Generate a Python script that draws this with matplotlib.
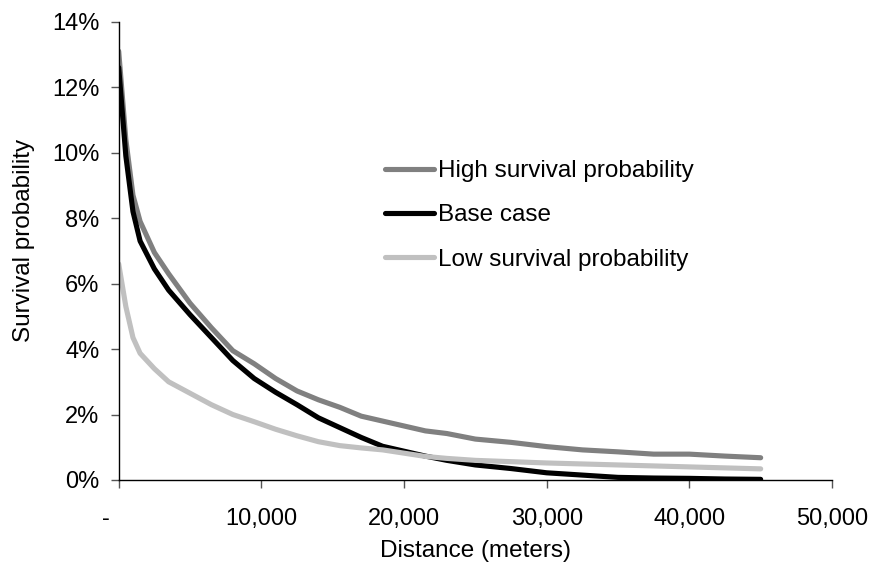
import matplotlib
matplotlib.use("Agg")
import matplotlib.pyplot as plt
import matplotlib.transforms as mtransforms
from matplotlib.ticker import FuncFormatter

plt.rcParams["font.family"] = ["Liberation Sans", "DejaVu Sans"]

# Distance from release point (meters)
distance = [0, 500, 1000, 1500, 2500, 3500, 5000, 6500, 8000, 9500,
            11000, 12500, 14000, 15500, 17000, 18500, 20000, 21500, 23000,
            25000, 27500, 30000, 32500, 35000, 37500, 40000, 42500, 45000]

# Survival probability in percent
high_survival = [13.1, 10.4, 8.7, 7.9, 6.95, 6.3, 5.4, 4.65, 3.95, 3.55,
                 3.1, 2.72, 2.45, 2.22, 1.95, 1.8, 1.65, 1.5, 1.42,
                 1.25, 1.15, 1.02, 0.92, 0.86, 0.79, 0.79, 0.73, 0.68]
base_case = [12.6, 9.9, 8.2, 7.3, 6.45, 5.8, 5.05, 4.35, 3.65, 3.1,
             2.68, 2.3, 1.9, 1.6, 1.3, 1.03, 0.88, 0.73, 0.6,
             0.46, 0.35, 0.22, 0.15, 0.08, 0.06, 0.05, 0.03, 0.02]
low_survival = [6.6, 5.3, 4.35, 3.87, 3.4, 3.0, 2.65, 2.3, 2.0, 1.78,
                1.55, 1.35, 1.17, 1.05, 0.98, 0.92, 0.82, 0.72, 0.66,
                0.6, 0.56, 0.52, 0.49, 0.46, 0.43, 0.40, 0.37, 0.34]

x_ticks = [0, 10000, 20000, 30000, 40000, 50000]
y_ticks = [0, 2, 4, 6, 8, 10, 12, 14]

fig = plt.figure(figsize=(8.72, 5.69), dpi=100)
ax = fig.add_axes([118.7 / 872, 89 / 569, (832 - 118.7) / 872, (480 - 21.7) / 569])

lw = 3.7
ax.plot(distance, high_survival, color="#808080", lw=lw, solid_capstyle="round",
        label="High survival probability")
ax.plot(distance, base_case, color="black", lw=lw, solid_capstyle="round",
        label="Base case")
ax.plot(distance, low_survival, color="#c0c0c0", lw=lw, solid_capstyle="round",
        label="Low survival probability")

ax.set_xlim(0, 50000)
ax.set_ylim(0, 14)
ax.set_xticks(x_ticks)
ax.set_yticks(y_ticks)
ax.xaxis.set_major_formatter(FuncFormatter(lambda v, p: "-" if v == 0 else f"{v:,.0f}"))
ax.yaxis.set_major_formatter(FuncFormatter(lambda v, p: f"{v:.0f}%"))

for s in ["top", "right"]:
    ax.spines[s].set_visible(False)
for s in ["left", "bottom"]:
    ax.spines[s].set_linewidth(1.0)
    ax.spines[s].set_color("black")

ax.tick_params(axis="x", direction="out", length=6, width=1, color="#555555",
               labelsize=17, pad=14)
ax.tick_params(axis="y", direction="out", length=6, width=1, color="#555555",
               labelsize=17, pad=8)

# the "-" label for zero sits left of its tick
fig.canvas.draw()
lbl = ax.xaxis.get_major_ticks()[0].label1
lbl.set_transform(lbl.get_transform() +
                  mtransforms.ScaledTranslation(-13 / 100, 0, fig.dpi_scale_trans))

ax.set_xlabel("Distance (meters)", fontsize=17.5)
ax.set_ylabel("Survival probability", fontsize=17.5)
ax.xaxis.set_label_coords(0.5, -(540 - 480) / 458.3)
ax.yaxis.set_label_coords(-(118.7 - 35) / 713.3, (480 - 240) / 458.3)

ax.legend(loc="upper left", bbox_to_anchor=(385 / 872, 1 - 160 / 569),
          bbox_transform=fig.transFigure, frameon=False, fontsize=17.5,
          handlelength=2.0, handletextpad=0.2, labelspacing=0.92,
          borderpad=0, borderaxespad=0)

fig.savefig("out.png", dpi=100)
